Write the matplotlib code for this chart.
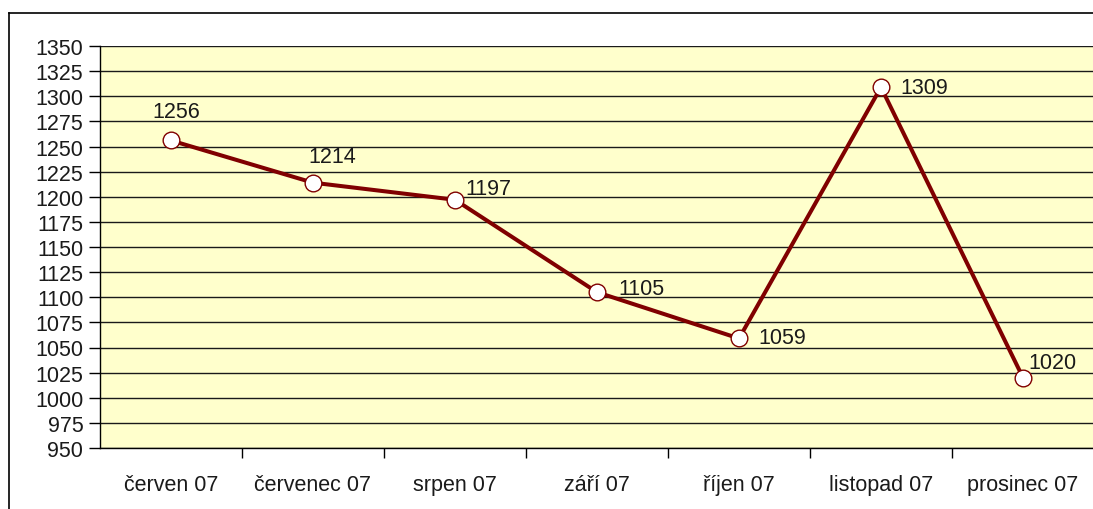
import matplotlib
matplotlib.use("Agg")
import matplotlib.pyplot as plt
from matplotlib.lines import Line2D
from matplotlib.ticker import FixedLocator, MultipleLocator

plt.rcParams['font.family'] = ['Liberation Sans', 'DejaVu Sans']

months = ["červen 07", "červenec 07", "srpen 07", "září 07", "říjen 07", "listopad 07", "prosinec 07"]
values = [1256, 1214, 1197, 1105, 1059, 1309, 1020]
# label offsets in points (dx, dy)
label_offsets = [(4, 21), (14, 19), (24, 8), (32, 3), (31, 1), (31, 0), (21, 11)]

W, H = 1093, 510
fig = plt.figure(figsize=(W / 100, H / 100), dpi=100)
fig.patch.set_facecolor('white')

left, right, top, bottom = 100, 1094, 47, 449
ax = fig.add_axes([left / W, 1 - bottom / H, (right - left) / W, (bottom - top) / H])
ax.set_facecolor('#FFFFCC')

x = list(range(len(months)))
ax.set_xlim(-0.5, len(months) - 0.5)
ax.set_ylim(950, 1350)
ax.yaxis.set_major_locator(MultipleLocator(25))
ax.grid(axis='y', color='#1a1a1a', linewidth=1.0)
ax.set_axisbelow(True)

ax.plot(x, values, color='#800000', linewidth=2.9, marker='o', markersize=12,
        markerfacecolor='white', markeredgecolor='#800000', markeredgewidth=1.0, zorder=3,
        clip_on=False)

FS = 15.5
for xi, v, (dx, dy) in zip(x, values, label_offsets):
    ax.annotate(str(v), (xi, v), xytext=(dx, dy), textcoords='offset points',
                ha='center', va='center', fontsize=FS, color='#1a1a1a')

ax.set_xticks(x)
ax.set_xticklabels(months)
ax.xaxis.set_minor_locator(FixedLocator([i + 0.5 for i in range(len(months) - 1)]))
ax.tick_params(axis='x', which='major', length=0, pad=19, labelsize=FS, labelcolor='#1a1a1a')
ax.tick_params(axis='x', which='minor', length=7, width=1, color='black', direction='out')
ax.tick_params(axis='y', which='major', length=8, width=1, color='black', direction='out',
               pad=4, labelsize=FS, labelcolor='#1a1a1a')

for s in ['top', 'right']:
    ax.spines[s].set_visible(False)
ax.spines['left'].set_linewidth(1)
ax.spines['bottom'].set_linewidth(1)

# outer chart border
fig.add_artist(Line2D([9 / W, 1.0], [1 - 14 / H, 1 - 14 / H], color='black', linewidth=1.2,
                      transform=fig.transFigure))
fig.add_artist(Line2D([9 / W, 9 / W], [1 - 14 / H, 0.0], color='black', linewidth=1.2,
                      transform=fig.transFigure))

fig.savefig('out.png', dpi=100, facecolor='white')
